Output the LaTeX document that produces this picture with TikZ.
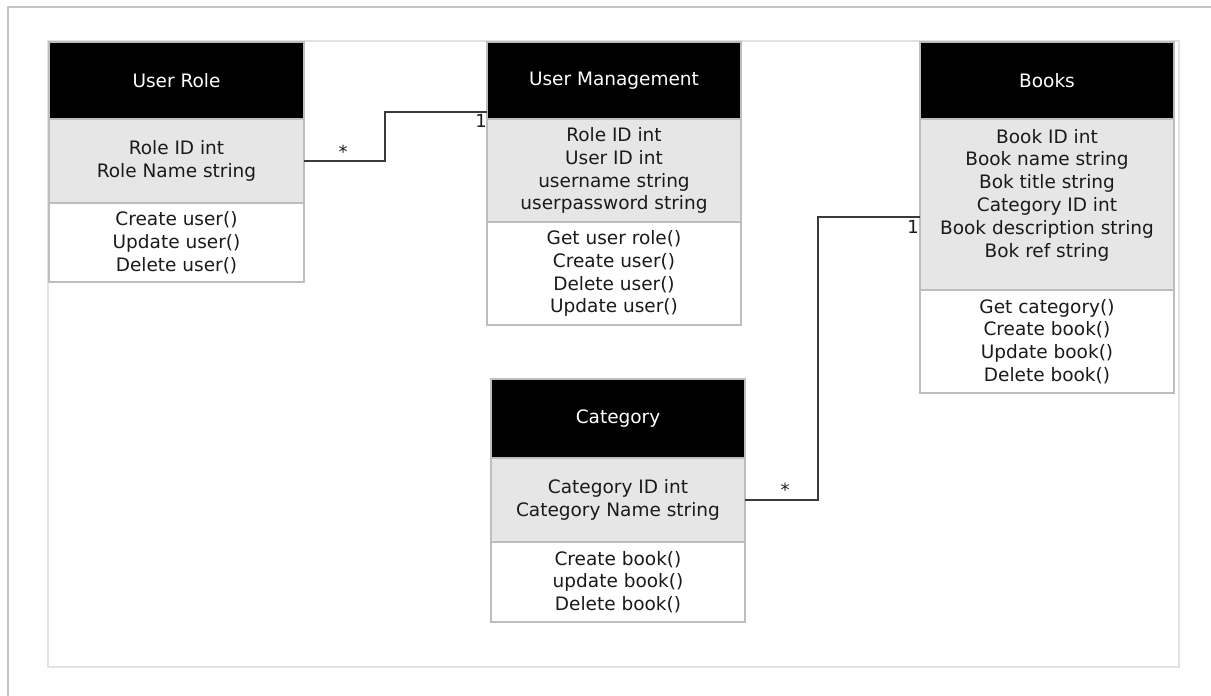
\documentclass[tikz,border=0pt]{standalone}
\usepackage{fontspec}
\setmainfont{DejaVu Sans}
\usetikzlibrary{calc}
\tikzset{
  box/.style={draw=boxline, line width=1.3pt, inner sep=0pt, outer sep=0pt, anchor=north west, align=center,
    font=\fontsize{18.5}{22.8}\selectfont},
  hdr/.style={box, fill=black, text=white},
  attr/.style={box, fill=attrfill, text=txt},
  meth/.style={box, fill=white, text=txt},
  conn/.style={draw=connline, line width=1.5pt},
  mult/.style={inner sep=0pt, text=txt, font=\fontsize{18}{18}\selectfont}
}
\definecolor{boxline}{HTML}{BDBDBD}
\definecolor{attrfill}{HTML}{E6E6E6}
\definecolor{txt}{HTML}{1A1A1A}
\definecolor{connline}{HTML}{3A3A3A}
\definecolor{frame}{HTML}{C4C4C4}
\definecolor{inner}{HTML}{E2E2E2}
\newcommand{\umlclass}[9]{%
  % #1 name, #2 x, #3 y, #4 width, #5 h1, #6 h2, #7 h3, #8 title, #9 attrs
  \node[hdr, minimum width=#4, minimum height=#5] (#1-h) at (#2,#3) {#8};
  \node[attr, minimum width=#4, minimum height=#6] (#1-a) at (#1-h.south west) {#9};
  \def\curname{#1}\def\curw{#4}\def\curh{#7}%
}
\newcommand{\umlmeth}[1]{%
  \node[meth, minimum width=\curw, minimum height=\curh] (\curname-m) at (\curname-a.south west) {#1};
}
\begin{document}
\begin{tikzpicture}[x=1pt, y=-1pt]
\useasboundingbox (0,0) rectangle (1211,696);
\draw[frame, line width=2pt] (8,696) -- (8,7) -- (1211,7);
\draw[inner, line width=1.3pt] (48,41) rectangle (1179,667);

\umlclass{ur}{49}{42}{255}{77}{84}{79}{User Role}{Role ID int\\Role Name string}
\umlmeth{Create user()\\Update user()\\Delete user()}

\umlclass{um}{487}{42}{254}{77}{103}{103}{User Management}{Role ID int\\User ID int\\username string\\userpassword string}
\umlmeth{Get user role()\\Create user()\\Delete user()\\Update user()}

\umlclass{bk}{920}{42}{254}{77}{171}{103}{Books}{Book ID int\\Book name string\\Bok title string\\Category ID int\\Book description string\\Bok ref string\\\mbox{}}
\umlmeth{Get category()\\Create book()\\Update book()\\Delete book()}

\umlclass{cat}{491}{379}{254}{79}{84}{80}{Category}{Category ID int\\Category Name string}
\umlmeth{Create book()\\update book()\\Delete book()}

\draw[conn] (ur-a.east) -- ++(81,0) |- ($(um-h.south west)+(0,-7)$);
\draw[conn] (cat-a.east) -- ++(73,0) |- ($(bk-a.north west)+(0,98)$);

\node[mult] (m1) at (343,152) {*};
\node[mult] (m2) at (481,121) {1};
\node[mult] (m3) at (785,490) {*};
\node[mult] (m4) at (913,227) {1};
\end{tikzpicture}
\end{document}
